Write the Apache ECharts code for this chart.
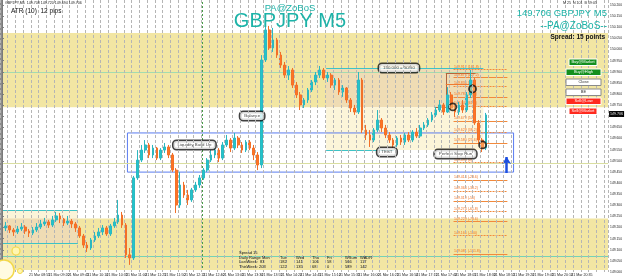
<!DOCTYPE html>
<html><head><meta charset="utf-8">
<script src="https://cdn.jsdelivr.net/npm/echarts/dist/echarts.min.js"></script>
<style>html,body{margin:0;padding:0;background:#fff;}#c{width:625px;height:280px;}</style>
</head><body><div id="c"></div>
<script>
// ---- data ----
const firstOpen = 149.207;
const closes = [149.198,149.207,149.189,149.180,149.193,149.202,149.184,149.175,149.189,149.202,
149.216,149.225,149.211,149.234,149.252,149.238,149.220,149.229,149.216,149.198,
149.162,149.121,149.108,149.144,149.162,149.180,149.198,149.171,149.207,149.225,
149.256,149.211,149.077,149.063,149.423,149.503,149.548,149.571,149.526,149.557,
149.512,149.548,149.562,149.526,149.458,149.301,149.391,149.346,149.324,149.369,
149.391,149.423,149.458,149.503,149.526,149.548,149.512,149.571,149.593,149.557,
149.602,149.571,149.548,149.584,149.557,149.526,149.481,149.953,150.088,150.007,
150.043,149.975,149.930,149.885,149.908,149.840,149.796,149.751,149.773,149.818,
149.854,149.885,149.908,149.872,149.885,149.840,149.863,149.809,149.827,149.773,
149.737,149.719,149.863,149.638,149.616,149.593,149.638,149.683,149.647,149.616,
149.593,149.571,149.602,149.584,149.616,149.593,149.629,149.611,149.647,149.661,
149.683,149.706,149.728,149.751,149.719,149.796,149.737,149.719,149.751,149.728,
149.796,149.863,149.670,149.593,149.557,149.706];
const highs = [149.225,149.225,149.211,149.198,149.207,149.220,149.211,149.193,149.202,149.220,
149.234,149.243,149.234,149.252,149.270,149.265,149.243,149.252,149.238,149.225,
149.207,149.171,149.135,149.153,149.180,149.198,149.211,149.207,149.216,149.243,
149.324,149.270,149.220,149.108,149.432,149.548,149.571,149.593,149.580,149.571,
149.562,149.557,149.580,149.571,149.535,149.467,149.449,149.405,149.369,149.378,
149.405,149.436,149.467,149.512,149.548,149.571,149.557,149.584,149.616,149.602,
149.625,149.611,149.584,149.593,149.593,149.571,149.539,149.975,150.124,150.106,
150.097,150.052,149.989,149.944,149.926,149.917,149.854,149.809,149.782,149.827,
149.863,149.899,149.926,149.917,149.899,149.894,149.872,149.872,149.840,149.831,
149.782,149.751,149.899,149.872,149.661,149.638,149.647,149.728,149.692,149.661,
149.629,149.602,149.611,149.616,149.625,149.629,149.638,149.647,149.661,149.674,
149.692,149.719,149.742,149.773,149.760,149.831,149.809,149.751,149.764,149.773,
149.809,149.908,149.872,149.683,149.602,149.715];
const lows = [149.180,149.184,149.175,149.162,149.171,149.184,149.171,149.157,149.166,149.180,
149.193,149.207,149.198,149.202,149.225,149.220,149.207,149.211,149.198,149.180,
149.153,149.108,149.090,149.099,149.135,149.153,149.166,149.162,149.162,149.198,
149.216,149.198,149.063,149.032,149.054,149.414,149.494,149.535,149.512,149.512,
149.503,149.503,149.535,149.512,149.449,149.265,149.288,149.333,149.301,149.315,
149.360,149.378,149.414,149.449,149.494,149.512,149.494,149.503,149.562,149.539,
149.548,149.557,149.535,149.539,149.548,149.503,149.458,149.467,149.944,149.998,
149.989,149.962,149.917,149.872,149.863,149.827,149.782,149.728,149.737,149.760,
149.809,149.840,149.872,149.863,149.854,149.827,149.818,149.796,149.787,149.760,
149.719,149.706,149.710,149.625,149.593,149.562,149.584,149.629,149.629,149.602,
149.580,149.557,149.562,149.571,149.571,149.584,149.584,149.602,149.602,149.638,
149.652,149.674,149.697,149.719,149.706,149.715,149.728,149.697,149.706,149.715,
149.719,149.782,149.661,149.580,149.539,149.548];
const totalBars = 157;
const startHour = 8, startMinute = 20, dayLabel = '21 Mar';
const yMin = 149.0, yMax = 150.2225, yStep = 0.05;
const currentPrice = 149.706;
// zones (price ranges)
const supplyZone = [150.074, 149.740];
const demandZone = [149.240, 149.0];
// boxes: [x0 bar, x1 bar, top price, bottom price, colour]
const tintBoxes = [
  [-0.5, 19.6, 149.279, 149.240, '#fbf4d8'],
  [-0.5, 19.6, 149.240, 149.130, '#efdcb4'],
  [83.7, 124.3, 149.917, 149.740, '#efdcb4'],
  [83.7, 124.3, 149.740, 149.548, '#fcf5d9']
];
const blueBox = [32.4, 132.1, 149.625, 149.449];
const fullLines = [[149.903, '#a3dcb0'], [149.490, '#d9dea0'], [149.072, '#76d2b6']];
const cyanSegs = [[-0.5, 19.6, 149.279], [-0.5, 19.6, 149.130], [83.7, 124.3, 149.917], [83.7, 101.2, 149.548]];
const fibPrices = [149.912,149.876,149.836,149.787,149.746,149.679,149.629,149.580,149.494,149.414,149.364,149.319,149.274,149.229,149.166,149.081];
const fibTags = ['161.8','127.2','100','78.6','61.8','50','38.2','23.6','0','-23.6','-38.2','-50','-61.8','-78.6','-100','-161.8'];
const orderPoints = [[116.4, 149.742], [121.5, 149.823], [124.1, 149.571]];
const notes = [['Balance', 64.6, 149.701], ['Liquidity Build Up', 49.7, 149.571], ['150.000 = 50/50', 102.5, 149.917], ['TEST', 99.4, 149.539], ['Perfect Stop Run', 117.1, 149.530]];
const daySeparator = 51.8;
const arrowUp = [130.3, 149.445, 149.517];
const statsHead = ['Daily Range Mon', 'Tue', 'Wed', 'Thu', 'Fri', 'WSum', 'WADR'];
const statsLast = ['LastWeek:  83', '182', '141', '106', '58', '566', '117'];
const statsThis = ['ThisWeek: 203', '122', '135', '68', '0', '589', '142'];

// ---- build ----
const cats = [];
for (let i = 0; i < totalBars; i++) {
  const t = startHour * 60 + startMinute + 5 * i;
  const h = Math.floor(t / 60) % 24, m = t % 60;
  cats.push(dayLabel + ' ' + String(h).padStart(2, '0') + ':' + String(m).padStart(2, '0'));
}
const ohlc = closes.map((c, i) => [i === 0 ? firstOpen : closes[i - 1], c, lows[i], highs[i]]);

const teal = '#1db3a8';
const chart = echarts.init(document.getElementById('c'), null, {renderer: 'canvas'});
const F = '"Liberation Sans", Arial, sans-serif';

const markAreaData = [
  [{yAxis: supplyZone[0], itemStyle: {color: '#f2e6a3'}}, {yAxis: supplyZone[1]}],
  [{yAxis: demandZone[0], itemStyle: {color: '#f2e6a3'}}, {yAxis: demandZone[1]}]
].concat(tintBoxes.map(b => [{coord: [b[0], b[2]], itemStyle: {color: b[4]}}, {coord: [b[1], b[3]]}]));

const lineData = [];
fullLines.forEach(l => lineData.push({yAxis: l[0], lineStyle: {color: l[1], width: 1, type: 'solid'}}));
cyanSegs.forEach(s => lineData.push([{coord: [s[0], s[2]], lineStyle: {color: '#3ec3c6', width: 1, type: 'solid'}}, {coord: [s[1], s[2]]}]));
lineData.push({xAxis: daySeparator, lineStyle: {color: '#4a9d4a', width: 1, type: [2, 2]}});
fibPrices.forEach((p, k) => lineData.push([{coord: [116.6, p], lineStyle: {color: '#f28a3c', width: 1, type: k % 2 ? 'solid' : [2, 1]},
  label: {show: true, position: 'insideStartTop', formatter: p.toFixed(3) + ' (' + fibTags[k] + ')', fontSize: 3.5, color: '#f07020', distance: 0.5}}, {coord: [130.5, p]}]));
// order box lines
lineData.push([{coord: [114.6, 149.894], lineStyle: {color: '#b4643c', width: 1, type: 'solid'}}, {coord: [122.3, 149.894]}]);
lineData.push([{coord: [114.6, 149.894], lineStyle: {color: '#b4643c', width: 1, type: 'solid'}}, {coord: [114.6, 149.742]}]);
lineData.push([{coord: [112.0, 149.742], lineStyle: {color: '#b4643c', width: 1, type: 'solid'}}, {coord: [114.6, 149.742]}]);
lineData.push([{coord: [114.6, 149.845], lineStyle: {color: '#f07a30', width: 1, type: 'solid'}}, {coord: [122.3, 149.845]}]);
// arrow
lineData.push([{coord: [arrowUp[0], arrowUp[1]], symbol: 'none', lineStyle: {color: '#1c4fe0', width: 2.5, type: 'solid'}},
  {coord: [arrowUp[0], arrowUp[2]], symbol: 'arrow', symbolSize: [7, 7]}]);

const option = {
  animation: false,
  backgroundColor: '#ffffff',
  grid: {left: 0, right: 15, top: 0, bottom: 8, containLabel: false},
  xAxis: [{
    type: 'category', data: cats, boundaryGap: true, z: 20,
    axisLine: {show: false}, axisTick: {show: false},
    axisLabel: {interval: (i) => i % 5 === 2, fontSize: 3.6, color: '#222', margin: 1, align: 'left', fontFamily: F},
    splitLine: {show: true, interval: 1, lineStyle: {color: '#b5b5b5', width: 1, type: [3, 2]}}
  }, {
    type: 'value', min: -0.5, max: totalBars - 0.5, show: false
  }],
  yAxis: [{
    type: 'value', position: 'right', min: yMin, max: yMax, interval: yStep, z: 20,
    axisLine: {show: true, lineStyle: {color: '#7a7a7a', width: 1}},
    axisTick: {show: true, length: 2, lineStyle: {color: '#7a7a7a'}},
    axisLabel: {fontSize: 3.3, color: '#222', margin: 2, showMaxLabel: false, formatter: v => v.toFixed(3), fontFamily: F},
    splitLine: {show: false}
  }],
  series: [
    {type: 'line', name: 'zones', xAxisIndex: 1, data: [], z: 1, silent: true,
      markArea: {silent: true, data: markAreaData, label: {show: false}}},
    {type: 'line', name: 'levels', xAxisIndex: 1, data: [], z: 2, silent: true,
      markLine: {silent: true, symbol: 'none', data: lineData, label: {show: false}}},
    {type: 'line', name: 'liquidity box', xAxisIndex: 1, data: [], z: 2, silent: true,
      markArea: {silent: true, data: [[{coord: [blueBox[0], blueBox[2]]}, {coord: [blueBox[1], blueBox[3]]}]],
        itemStyle: {color: 'rgba(0,0,0,0)', borderColor: '#5a7cf0', borderWidth: 1}, label: {show: false}}},
    {type: 'candlestick', name: 'GBPJPY', data: ohlc, z: 5, barWidth: 2.2,
      itemStyle: {color: '#22c4cc', color0: '#ff7424', borderColor: '#2cb8c0', borderColor0: '#f27028', borderWidth: 1},
      markLine: {silent: true, symbol: 'none', data: [{yAxis: currentPrice, lineStyle: {color: 'rgba(0,0,0,0)'},
        label: {show: true, position: 'end', formatter: currentPrice.toFixed(3), backgroundColor: '#000', color: '#fff', fontSize: 3.6, padding: [1, 1], distance: 1}}]}},
    {type: 'scatter', name: 'orders', xAxisIndex: 1, data: orderPoints, z: 7, symbol: 'circle', symbolSize: 7,
      itemStyle: {color: 'rgba(255,190,120,0.6)', borderColor: '#111', borderWidth: 1.8}},
    {type: 'scatter', name: 'notes', xAxisIndex: 1, z: 8, symbolSize: 0,
      data: notes.map(n => ({name: n[0], value: [n[1], n[2]]})),
      label: {show: true, position: 'inside', formatter: p => p.name, fontSize: 4.4, color: '#111', fontFamily: F,
        backgroundColor: '#fff', borderColor: '#111', borderWidth: 1.5, borderRadius: 3, padding: [2, 4]}}
  ],
  graphic: []
};

const g = option.graphic;
g.push({type: 'rect', shape: {x: 0, y: 270, width: 610, height: 10}, style: {fill: '#fff'}, z: 10, silent: true});
g.push({type: 'rect', shape: {x: 0, y: 0, width: 2, height: 270}, style: {fill: '#8c8c8c'}, z: 10, silent: true});
function txt(text, x, y, font, fill, align) {
  g.push({type: 'text', x: x, y: y, z: 30, silent: true, style: {text: text, font: font, fill: fill, align: align || 'left', verticalAlign: 'top'}});
}
txt('GBPJPY,M5  149.708 149.720 149.694 149.706', 5, 1, '3.6px ' + F, '#222');
txt('ATR (10)  12 pips', 11, 8, '6.5px ' + F, '#111');
txt('PA@ZoBoS', 290, 3, '9.5px ' + F, teal, 'center');
txt('GBPJPY M5', 290, 11, '20px ' + F, teal, 'center');
txt('M 25  N 101  B 19:05', 563, 1, '3.6px ' + F, '#222');
txt('149.706 GBPJPY M5', 607, 8, '9.5px ' + F, teal, 'right');
txt('--PA@ZoBoS--', 607, 21, '10px ' + F, teal, 'right');
txt('Spread: 15 points', 605, 34, 'bold 6.5px ' + F, '#111', 'right');
// buttons
const buttons = [['Buy@Market', 569, 59, 28, '#14901e', '#fff'], ['Buy@High', 566, 69, 35, '#14901e', '#fff'], ['Close', 566, 79, 35, '#fff', '#333'],
  ['BE', 566, 89, 35, '#fff', '#333'], ['Sell@Low', 566, 98, 35, '#ff2a1e', '#fff'], ['Sell@Market', 569, 108, 28, '#ff2a1e', '#fff']];
buttons.forEach(b => {
  g.push({type: 'rect', z: 30, silent: true, shape: {x: b[1], y: b[2], width: b[3], height: 6.5},
    style: {fill: b[4], stroke: b[4] === '#fff' ? '#8a8a8a' : '#ffffff', lineWidth: 1}});
  txt(b[0], b[1] + b[3] / 2, b[2] + 1.3, '4px ' + F, b[5], 'center');
});
// stats
txt('Spread 15', 239, 251, '4px ' + F, '#111');
const colX = [239, 280, 296, 312, 327, 345, 360];
[statsHead, statsLast, statsThis].forEach((row, r) => row.forEach((t, k) => txt(t, colX[k], 256 + r * 4.3, '4px ' + F, '#111')));
// lamp icon
g.push({type: 'circle', z: 30, silent: true, shape: {cx: 4, cy: 270, r: 10}, style: {fill: '#fffbe0', stroke: '#f3d84a', lineWidth: 1.5}});
g.push({type: 'circle', z: 30, silent: true, shape: {cx: 16, cy: 251, r: 4}, style: {fill: '#fff6b0', stroke: '#f3d84a', lineWidth: 1.2}});
g.push({type: 'circle', z: 30, silent: true, shape: {cx: 20, cy: 271, r: 2.5}, style: {fill: '#fff6b0', stroke: '#f3d84a', lineWidth: 1}});

chart.setOption(option);
</script></body></html>
